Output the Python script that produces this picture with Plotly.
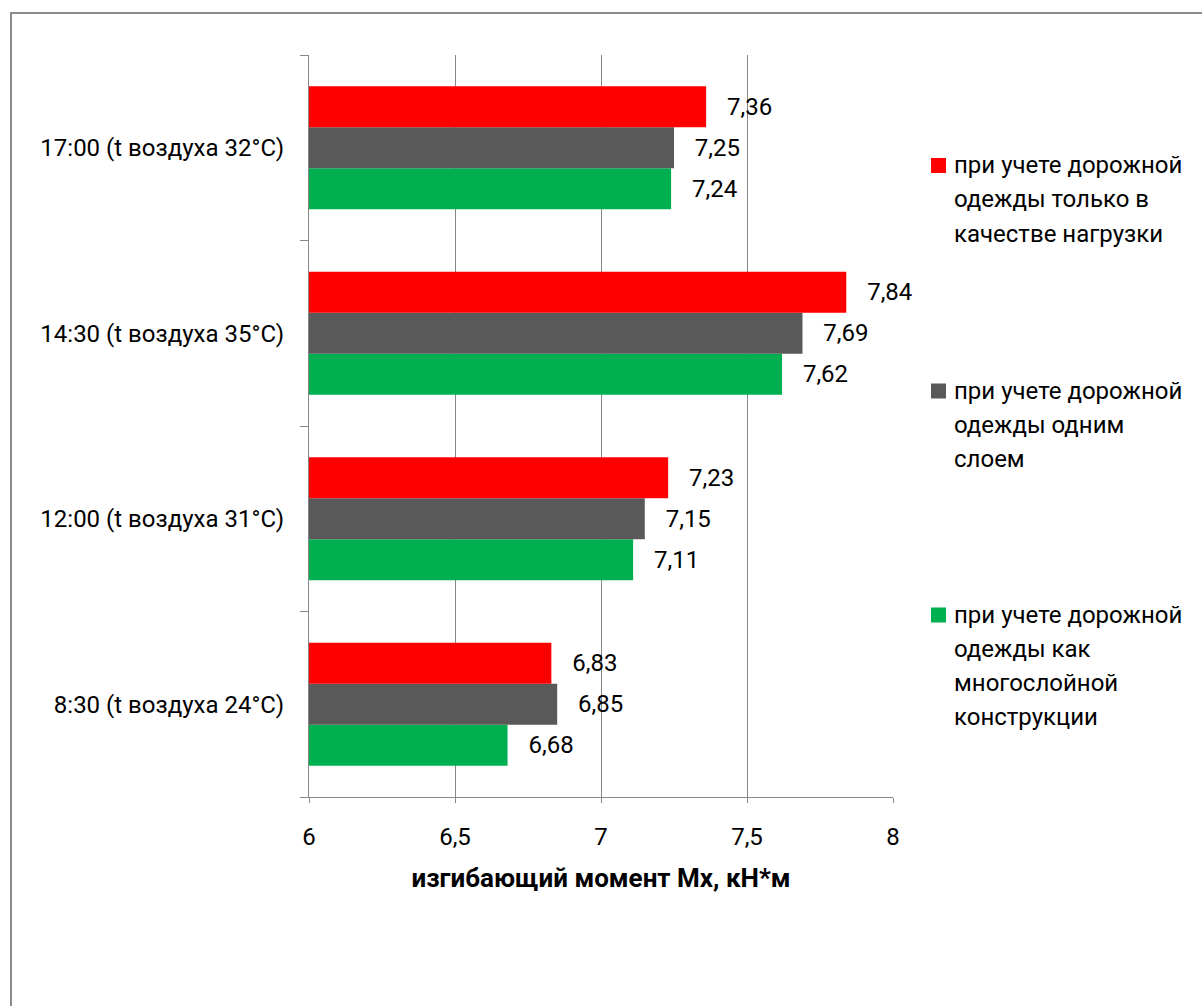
import plotly.graph_objects as go

# Time of day with air temperature, bottom to top on the category axis
categories = [
    "8:30 (t воздуха 24°C)",
    "12:00 (t воздуха 31°C)",
    "14:30 (t воздуха 35°C)",
    "17:00 (t воздуха 32°C)",
]

# Bending moment Mx, kN*m
load_only = [6.83, 7.23, 7.84, 7.36]
single_layer = [6.85, 7.15, 7.69, 7.25]
multilayer = [6.68, 7.11, 7.62, 7.24]

series_names = [
    "при учете дорожной<br>одежды только в<br>качестве нагрузки",
    "при учете дорожной<br>одежды одним<br>слоем",
    "при учете дорожной<br>одежды как<br>многослойной<br>конструкции",
]
series_colors = ["#FF0000", "#595959", "#00B050"]

x_ticks = [6, 6.5, 7, 7.5, 8]
x_tick_labels = ["6", "6,5", "7", "7,5", "8"]
x_title = "изгибающий момент Mx, кН*м"

FONT = "Roboto"
FS = 24
GRID = "#878787"

# plot area in pixels
W, H = 1202, 1006
L, R, T, B = 309, 309, 55, 209
PW, PH = W - L - R, H - T - B


def px_x(px):
    return (px - L) / PW


def px_y(py):
    return (H - B - py) / PH


def fmt(v):
    return f"{v:.2f}".replace(".", ",")


fig = go.Figure()

# bars are stacked bottom-up within a group, so the first series goes last
series = [load_only, single_layer, multilayer]
for values, name, color in reversed(list(zip(series, series_names, series_colors))):
    fig.add_trace(go.Bar(
        y=categories,
        x=values,
        base=0,
        orientation="h",
        name=name.replace("<br>", " "),
        marker=dict(color=color, line=dict(width=0)),
        text=[fmt(v) for v in values],
        texttemplate="\u00a0\u00a0\u00a0%{text}",
        textposition="outside",
        textfont=dict(family=FONT, size=FS, color="#000000"),
        constraintext="none",
        cliponaxis=False,
        showlegend=False,
        hoverinfo="x+y",
    ))

# legend: colour square plus wrapped label lines
line_step = 34
first_line = [165.5, 391, 615]
annotations = []
shapes = []
for name, color, y0 in zip(series_names, series_colors, first_line):
    shapes.append(dict(
        type="rect", xref="paper", yref="paper",
        x0=px_x(931), x1=px_x(946), y0=px_y(y0 + 7.5), y1=px_y(y0 - 7.5),
        fillcolor=color, line=dict(width=0),
    ))
    for i, line in enumerate(name.split("<br>")):
        annotations.append(dict(
            xref="paper", yref="paper",
            x=px_x(952), y=px_y(y0 + i * line_step),
            xanchor="left", yanchor="middle",
            text=line, showarrow=False,
            font=dict(family=FONT, size=FS, color="#000000"),
        ))

# outer chart frame
shapes.append(dict(
    type="rect", xref="paper", yref="paper", layer="below",
    x0=px_x(11), x1=px_x(1215), y0=px_y(1020), y1=px_y(13),
    line=dict(color="#8C8C8C", width=2), fillcolor="rgba(0,0,0,0)",
))

fig.update_layout(
    width=W, height=H,
    margin=dict(l=L, r=R, t=T, b=B, pad=0),
    paper_bgcolor="#FFFFFF",
    plot_bgcolor="#FFFFFF",
    separators=", ",
    barmode="group",
    bargap=0.337,
    bargroupgap=0,
    font=dict(family=FONT, size=FS, color="#000000"),
    shapes=shapes,
    annotations=annotations,
    xaxis=dict(
        range=[6, 8],
        tickmode="array",
        tickvals=x_ticks,
        ticktext=x_tick_labels,
        showgrid=True, gridcolor=GRID, gridwidth=1.3,
        zeroline=False,
        showline=True, linecolor=GRID, linewidth=1.3,
        ticks="outside", ticklen=5, tickcolor=GRID, tickwidth=1.3,
        tickfont=dict(family=FONT, size=FS, color="#000000"),
        ticklabelstandoff=13,
        title=dict(text="<b>" + x_title + "</b>", standoff=18,
                   font=dict(family=FONT, size=26, color="#000000")),
    ),
    yaxis=dict(
        type="category",
        categoryorder="array",
        categoryarray=categories,
        showgrid=False,
        zeroline=False,
        showline=True, linecolor=GRID, linewidth=1.3,
        ticks="outside", ticklen=8, tickcolor=GRID, tickwidth=1.3,
        tickson="boundaries",
        tickfont=dict(family=FONT, size=FS, color="#000000"),
        ticklabelstandoff=19,
    ),
)

fig.write_html("out.html")
